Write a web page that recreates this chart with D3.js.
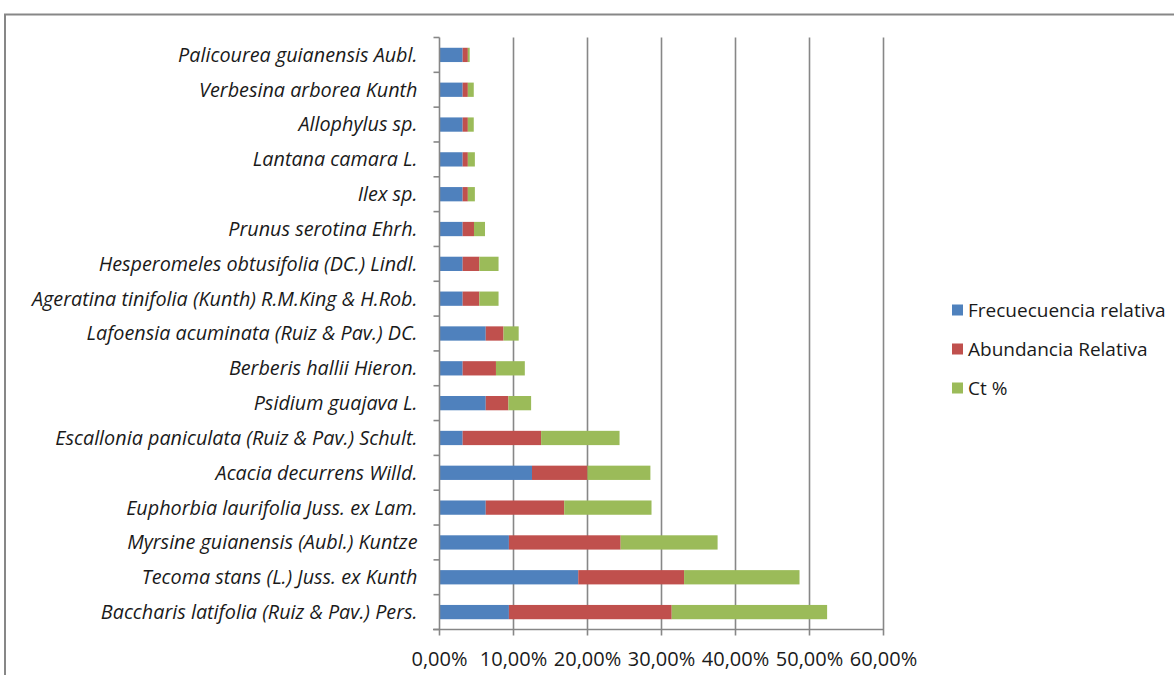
<!DOCTYPE html>
<html><head><meta charset="utf-8">
<script src="https://cdn.jsdelivr.net/npm/d3@7"></script>
<style>
html,body{margin:0;padding:0;background:#fff;}
svg{display:block;}
</style>
</head><body>
<svg id="c" width="1174" height="675"></svg>
<script>
const categories = [
  "Palicourea guianensis Aubl.",
  "Verbesina arborea Kunth",
  "Allophylus sp.",
  "Lantana camara L.",
  "Ilex sp.",
  "Prunus serotina Ehrh.",
  "Hesperomeles obtusifolia (DC.) Lindl.",
  "Ageratina tinifolia (Kunth) R.M.King & H.Rob.",
  "Lafoensia acuminata (Ruiz & Pav.) DC.",
  "Berberis hallii Hieron.",
  "Psidium guajava L.",
  "Escallonia paniculata (Ruiz & Pav.) Schult.",
  "Acacia decurrens Willd.",
  "Euphorbia laurifolia Juss. ex Lam.",
  "Myrsine guianensis (Aubl.) Kuntze",
  "Tecoma stans (L.) Juss. ex Kunth",
  "Baccharis latifolia (Ruiz & Pav.) Pers."
];
const frecuenciaRelativa = [3.13,3.13,3.13,3.13,3.13,3.13,3.13,3.13,6.25,3.13,6.25,3.13,12.5,6.25,9.38,18.75,9.38];
const abundanciaRelativa = [0.70,0.70,0.70,0.70,0.70,1.53,2.25,2.25,2.40,4.50,3.06,10.60,7.50,10.60,15.10,14.30,22.00];
const ctPorcentaje = [0.25,0.80,0.80,0.95,0.95,1.49,2.60,2.60,2.05,3.90,3.07,10.60,8.50,11.80,13.10,15.60,21.00];
const seriesNames = ["Frecuecuencia relativa","Abundancia Relativa","Ct %"];
const seriesColors = ["#4F81BD","#C0504D","#9BBB59"];
const xTicks = [0,10,20,30,40,50,60];

const svg = d3.select("#c");
const gray = "#878787";
const font = "'Open Sans', sans-serif";

// outer frame
svg.append("path").attr("d","M5,680 L5,14.5 L1180,14.5").attr("fill","none").attr("stroke",gray).attr("stroke-width",2);

const x = d3.scaleLinear().domain([0,60]).range([439.5,883.5]);
const y = d3.scaleBand().domain(categories).range([37.5,629.5]).padding(0);
const barH = y.bandwidth()*0.41;

// gridlines
svg.append("g").selectAll("line").data(xTicks.slice(1)).join("line")
  .attr("x1",d=>x(d)).attr("x2",d=>x(d)).attr("y1",37.5).attr("y2",629.5)
  .attr("stroke",gray).attr("stroke-width",1.6);

// stacked bars
const rows = categories.map((c,i)=>({c, v:[frecuenciaRelativa[i],abundanciaRelativa[i],ctPorcentaje[i]]}));
const g = svg.append("g");
rows.forEach(r=>{
  let acc=0;
  r.v.forEach((v,k)=>{
    g.append("rect").attr("x",x(acc)).attr("width",x(acc+v)-x(acc))
      .attr("y",y(r.c)+y.bandwidth()/2-barH/2).attr("height",barH)
      .attr("fill",seriesColors[k]);
    acc+=v;
  });
});

// y axis
const yAxis = svg.append("g").attr("transform","translate(439.5,0)");
yAxis.append("line").attr("y1",37.5).attr("y2",629.5).attr("stroke",gray).attr("stroke-width",1.6);
const bounds = categories.map(c=>y(c)).concat([y(categories[categories.length-1])+y.bandwidth()]);
yAxis.selectAll("line.t").data(bounds).join("line").attr("class","t")
  .attr("x1",-6).attr("x2",0).attr("y1",d=>d).attr("y2",d=>d).attr("stroke",gray).attr("stroke-width",1.6);
yAxis.selectAll("text").data(categories).join("text")
  .attr("x",-22).attr("y",d=>y(d)+y.bandwidth()/2).attr("dy","0.35em")
  .attr("text-anchor","end").attr("font-style","italic")
  .attr("font-family",font).attr("font-size",19.8).attr("fill","#1a1a1a")
  .text(d=>d);

// x axis
const xAxisG = svg.append("g").attr("transform","translate(0,629.5)");
xAxisG.append("line").attr("x1",433).attr("x2",884).attr("stroke",gray).attr("stroke-width",1.6);
xAxisG.selectAll("line.t").data(xTicks).join("line").attr("class","t")
  .attr("x1",d=>x(d)).attr("x2",d=>x(d)).attr("y1",0).attr("y2",6).attr("stroke",gray).attr("stroke-width",1.6);
xAxisG.selectAll("text").data(xTicks).join("text")
  .attr("x",d=>x(d)).attr("y",36.5).attr("text-anchor","middle")
  .attr("font-family",font).attr("font-size",20).attr("fill","#1a1a1a")
  .text(d=>d3.format(".2f")(d).replace(".",",")+"%");

// legend
const leg = svg.append("g");
seriesNames.forEach((n,i)=>{
  const yy = 310 + i*39;
  leg.append("rect").attr("x",952).attr("y",yy-5.5).attr("width",11).attr("height",11).attr("fill",seriesColors[i]);
  leg.append("text").attr("x",968).attr("y",yy).attr("dy","0.35em")
    .attr("font-family",font).attr("font-size",19).attr("fill","#1a1a1a").text(n);
});
</script>
</body></html>
